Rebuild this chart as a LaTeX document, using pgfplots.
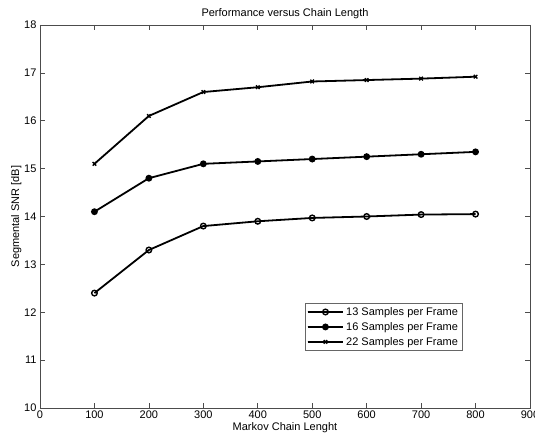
\documentclass[border=0pt]{standalone}
\usepackage{pgfplots}
\pgfplotsset{compat=1.18}
\usepackage{fontspec}
\setmainfont{Liberation Sans}
\begin{document}
\begin{tikzpicture}
\begin{axis}[
  at={(0,0)}, anchor=south west,
  scale only axis, width=490pt, height=383pt,
  xmin=0, xmax=900, ymin=10, ymax=18,
  xtick={0,100,...,900}, ytick={10,11,...,18},
  tick align=inside, tick pos=both,
  major tick length=5pt,
  axis line style={black!70, line width=0.6pt},
  tick style={black!70, line width=0.6pt},
  font=\fontsize{11}{13}\selectfont,
  ticklabel style={font=\fontsize{11}{13}\selectfont},
  xticklabel style={yshift=1pt},
  /pgf/number format/assume math mode=true,
  xlabel={Markov Chain Lenght},
  ylabel={Segmental SNR [dB]},
  xlabel style={yshift=3pt},
  ylabel style={yshift=-4pt},
  title={Performance versus Chain Length},
  title style={yshift=-3pt},
  legend style={at={(0.54,0.274)}, anchor=north west, draw=black!60, font=\fontsize{11}{13}\selectfont, inner sep=2pt, row sep=1.5pt},
  legend image code/.code={\draw[#1] (0cm,0cm) -- (1.25cm,0cm); \draw[#1, mark repeat=2, mark phase=2] plot coordinates {(0cm,0cm) (0.625cm,0cm) (1.25cm,0cm)};},
  legend cell align=left,
  clip=false,
]
\addplot[black, line width=1.8pt, mark=o, mark size=2.8pt, mark options={line width=1.4pt}] coordinates {
(100,12.4) (200,13.3) (300,13.8) (400,13.9) (500,13.97) (600,14.0) (700,14.04) (800,14.05)};
\addlegendentry{13 Samples per Frame}
\addplot[black, line width=1.8pt, mark=*, mark size=2.5pt] coordinates {
(100,14.1) (200,14.8) (300,15.1) (400,15.15) (500,15.2) (600,15.25) (700,15.3) (800,15.35)};
\addlegendentry{16 Samples per Frame}
\addplot[black, line width=1.8pt, mark=x, mark size=2.5pt, mark options={line width=1.4pt}] coordinates {
(100,15.1) (200,16.1) (300,16.6) (400,16.7) (500,16.82) (600,16.85) (700,16.88) (800,16.92)};
\addlegendentry{22 Samples per Frame}
\end{axis}
\pgfresetboundingbox
\path[use as bounding box] (-40pt,-30pt) rectangle (495pt,408pt);
\end{tikzpicture}
\end{document}
